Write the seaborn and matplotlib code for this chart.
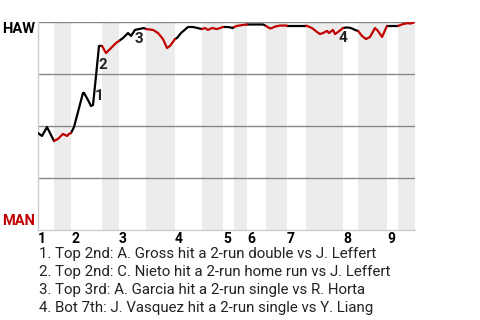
import matplotlib
matplotlib.use("Agg")
import matplotlib.pyplot as plt
import seaborn as sns
import pandas as pd

# ---- data (x = game progress, wp = HAW win probability) ----
game_x = [0, 4, 9, 16, 20, 25, 29, 31, 33, 36, 45, 46, 50, 53, 55, 58, 61, 64,
          68, 71, 78, 81, 85, 90, 93, 97, 106, 108, 115, 120, 125, 129, 132, 137,
          139, 143, 150, 155, 164, 167, 170, 174, 179, 182, 185, 190, 195, 196,
          199, 205, 209, 217, 225, 228, 232, 234, 237, 242, 249, 268, 274, 279,
          282, 285, 289, 291, 295, 297, 300, 305, 309, 313, 317, 320, 324, 328,
          332, 337, 340, 344, 349, 360, 365, 369, 373, 377]
haw_wp = [0.466, 0.452, 0.495, 0.428, 0.438, 0.462, 0.452, 0.462, 0.466, 0.495,
          0.659, 0.659, 0.625, 0.596, 0.601, 0.740, 0.885, 0.885, 0.851, 0.865,
          0.899, 0.909, 0.923, 0.947, 0.933, 0.962, 0.971, 0.966, 0.962, 0.947,
          0.918, 0.875, 0.885, 0.918, 0.923, 0.947, 0.976, 0.976, 0.966, 0.971,
          0.962, 0.971, 0.966, 0.971, 0.976, 0.976, 0.971, 0.976, 0.981, 0.986,
          0.988, 0.988, 0.988, 0.981, 0.969, 0.971, 0.978, 0.983, 0.983, 0.983,
          0.971, 0.952, 0.942, 0.947, 0.957, 0.947, 0.962, 0.942, 0.952, 0.971,
          0.974, 0.971, 0.962, 0.957, 0.933, 0.918, 0.928, 0.971, 0.957, 0.928,
          0.981, 0.981, 0.990, 0.994, 0.993, 1.000]
half_inning_bounds = [0, 16, 33, 64, 81, 108, 137, 164, 185, 196, 209, 228,
                      249, 268, 305, 320, 349, 360, 377]
inning_labels = ["1", "2", "3", "4", "5", "6", "7", "8", "9"]
teams = ["HAW", "MAN"]
event_labels = ["1", "2", "3", "4"]
event_x = [61, 65, 101, 305]
event_wp = [0.644, 0.791, 0.916, 0.925]
event_notes = [
    "1. Top 2nd: A. Gross hit a 2-run double vs J. Leffert",
    "2. Top 2nd: C. Nieto hit a 2-run home run vs J. Leffert",
    "3. Top 3rd: A. Garcia hit a 2-run single vs R. Horta",
    "4. Bot 7th: J. Vasquez hit a 2-run single vs Y. Liang",
]

RED = "#c00000"

# build segments per half inning
rows = []
for h in range(len(half_inning_bounds) - 1):
    a, b = half_inning_bounds[h], half_inning_bounds[h + 1]
    team = teams[h % 2]
    for xv, wv in zip(game_x, haw_wp):
        if a <= xv <= b:
            rows.append({"x": xv, "wp": wv, "team": team, "seg": h})
df = pd.DataFrame(rows)

sns.set_theme(style="white")
plt.rcParams["font.family"] = ["Roboto", "DejaVu Sans"]

fig = plt.figure(figsize=(4.8, 3.2), dpi=100)
ax = fig.add_axes([38 / 480, 1 - 230 / 320, 377 / 480, 208 / 320])

# shaded bottom halves
for h in range(1, len(half_inning_bounds) - 1, 2):
    ax.axvspan(half_inning_bounds[h], half_inning_bounds[h + 1],
               color="#ececec", lw=0, zorder=0)

for gy in [0.25, 0.5, 0.75, 1.0]:
    ax.axhline(gy, color="#888888", lw=1.0, zorder=1)

sns.lineplot(data=df, x="x", y="wp", hue="team", units="seg", estimator=None,
             sort=False, palette={"HAW": "black", "MAN": RED}, legend=False,
             linewidth=1.6, ax=ax, zorder=3)

ax.set_xlim(half_inning_bounds[0], half_inning_bounds[-1])
ax.set_ylim(0, 1)
ax.set_xticks([])
ax.set_yticks([])
ax.set_xlabel("")
ax.set_ylabel("")
for s in ["top", "right"]:
    ax.spines[s].set_visible(False)
for s in ["left", "bottom"]:
    ax.spines[s].set_color("#cccccc")
    ax.spines[s].set_linewidth(1.0)

# team labels
ax.text(-3, 0.966, teams[0], ha="right", va="center", fontsize=10.5,
        fontweight="bold", color="black", clip_on=False)
ax.text(-3, 0.043, teams[1], ha="right", va="center", fontsize=10.5,
        fontweight="bold", color=RED, clip_on=False)

# inning labels
for i, lab in enumerate(inning_labels):
    ax.text(half_inning_bounds[2 * i], -0.012, lab, ha="left", va="top",
            fontsize=10, fontweight="bold", color="black", clip_on=False)

# event markers
for lab, ex, ey in zip(event_labels, event_x, event_wp):
    ax.text(ex, ey, lab, ha="center", va="center", fontsize=11,
            fontweight="bold", color="#222222", zorder=5)

# notes
for i, note in enumerate(event_notes):
    fig.text(39 / 480, 1 - (254 + 18 * i) / 320, note, ha="left", va="center",
             fontsize=10.8, color="#222222")

fig.savefig("out.png", dpi=100)
